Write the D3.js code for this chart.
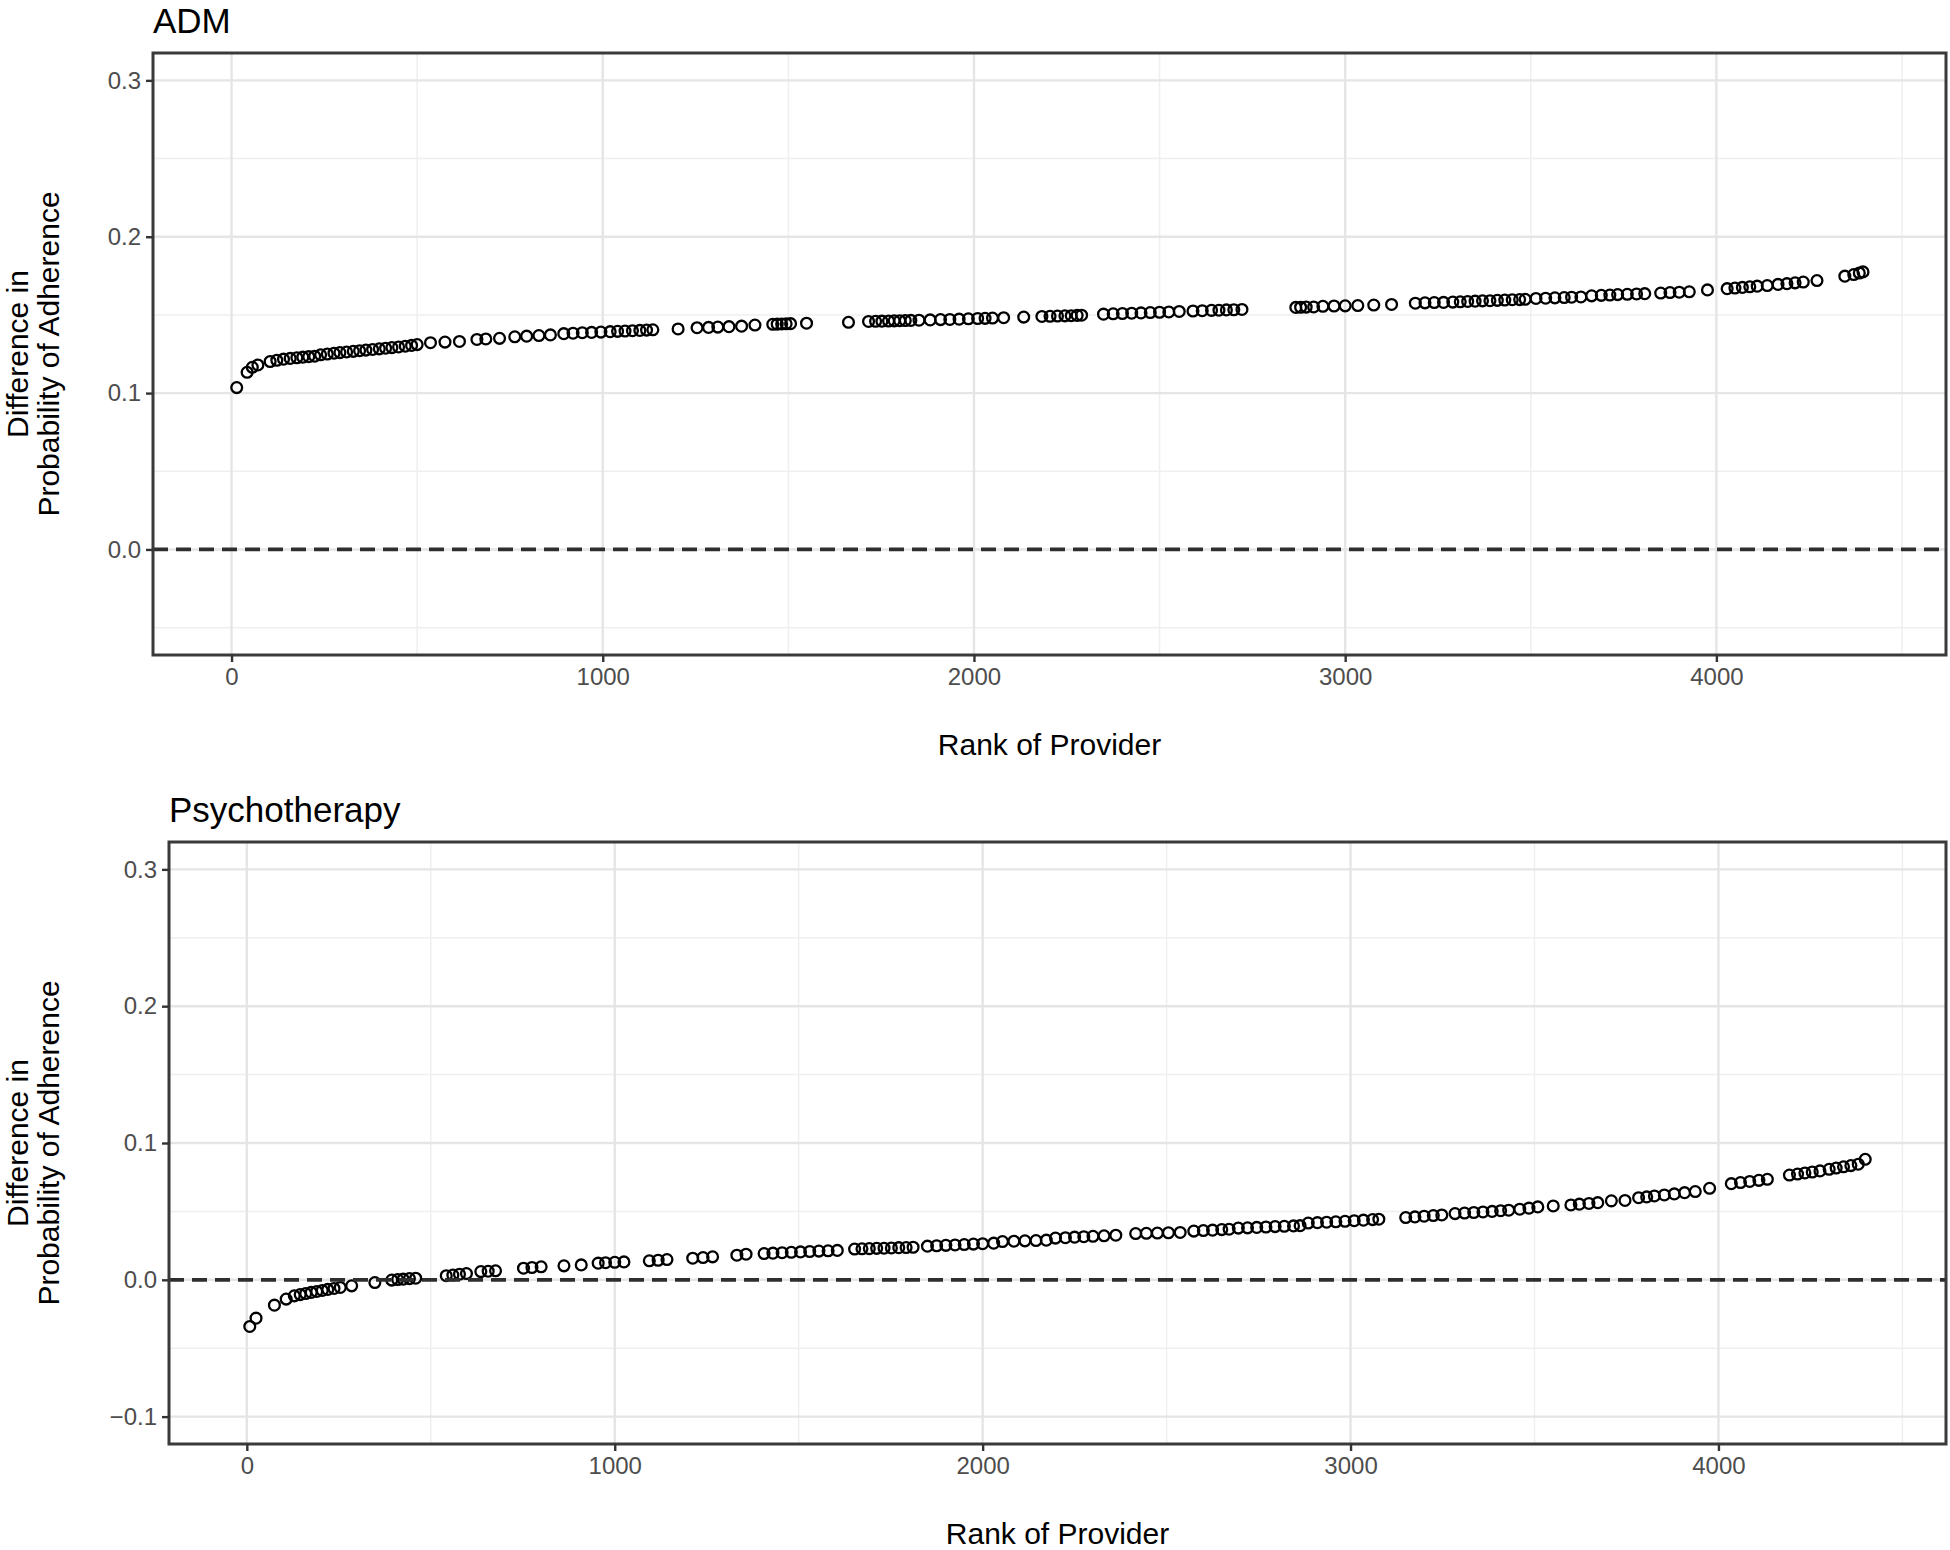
<!DOCTYPE html>
<html>
<head>
<meta charset="utf-8">
<script src="https://cdnjs.cloudflare.com/ajax/libs/d3/7.8.5/d3.min.js"></script>
<style>
    body { margin: 0; background: #fff; }
    text { font-family: "Liberation Sans", Arial, Helvetica, sans-serif; }
</style>
</head>
<body>
<div id="chart"></div>
<script>
// Difference in probability of adherence by provider rank
// two stacked panels (ADM on top, Psychotherapy below)

var xTicks = [0, 1000, 2000, 3000, 4000];
var xMinor = [500, 1500, 2500, 3500, 4500];
var xTitle = "Rank of Provider";
var yTitle = ["Difference in", "Probability of Adherence"];

var admTitle = "ADM";
var admYTicks = [0.0, 0.1, 0.2, 0.3];
var admYMinor = [-0.05, 0.05, 0.15, 0.25];
var admYLimits = [-0.05, 0.3];
var admRank = [14, 42, 56, 71,
    104, 122, 140, 158, 176, 192, 208, 224,
    240, 258, 276, 292, 310, 328, 345, 362, 380, 398, 415, 432, 450, 468, 485, 500,
    536, 575, 614,
    661, 685, 722,
    763, 795, 828, 859,
    895, 920, 945, 970, 995, 1020, 1040, 1060, 1080, 1100, 1118, 1135,
    1203,
    1254, 1285, 1310, 1340, 1374,
    1410, 1458, 1470, 1482, 1494, 1506,
    1549, 1662,
    1716, 1735, 1752, 1770, 1785, 1800, 1815, 1830, 1852,
    1882, 1910, 1935, 1960, 1985, 2010, 2030, 2050,
    2080, 2134,
    2183, 2205, 2225, 2245, 2262, 2278, 2290,
    2349, 2375, 2400, 2425, 2450, 2475, 2500, 2525, 2553,
    2590, 2615, 2640, 2660, 2680, 2700, 2722,
    2867, 2880, 2895, 2915,
    2940, 2970, 3000, 3034,
    3077, 3125,
    3189, 3215, 3240, 3265, 3290, 3310, 3330, 3350, 3370, 3390, 3410, 3430, 3450, 3470, 3485,
    3514, 3540, 3565, 3590, 3610, 3635,
    3664, 3690, 3713,
    3734, 3760, 3785, 3807,
    3850, 3875, 3900, 3927,
    3976,
    4029, 4050, 4070, 4090, 4110, 4137,
    4166, 4190, 4212, 4234,
    4271,
    4346, 4370, 4385, 4395];
var admDiff = [0.1035, 0.1133, 0.1165, 0.1180,
    0.1202, 0.1210, 0.1217, 0.1222, 0.1226, 0.1230, 0.1233, 0.1236,
    0.1245, 0.1250, 0.1255, 0.1259, 0.1263, 0.1267, 0.1271, 0.1275, 0.1279, 0.1283, 0.1287, 0.1291, 0.1295, 0.1300, 0.1305, 0.1310,
    0.1322, 0.1326, 0.1330,
    0.1343, 0.1346, 0.1350,
    0.1360, 0.1364, 0.1368, 0.1372,
    0.1380, 0.1383, 0.1386, 0.1388, 0.1390, 0.1393, 0.1395, 0.1397, 0.1399, 0.1401, 0.1403, 0.1405,
    0.1410,
    0.1418, 0.1420, 0.1422, 0.1425, 0.1428,
    0.1435, 0.1440, 0.1441, 0.1442, 0.1443, 0.1444,
    0.1447, 0.1453,
    0.1458, 0.1459, 0.1460, 0.1461, 0.1462, 0.1463, 0.1464, 0.1465, 0.1466,
    0.1468, 0.1470, 0.1471, 0.1473, 0.1475, 0.1477, 0.1478, 0.1480,
    0.1482, 0.1486,
    0.1490, 0.1491, 0.1493, 0.1494, 0.1495, 0.1497, 0.1498,
    0.1505, 0.1507, 0.1509, 0.1511, 0.1513, 0.1515, 0.1517, 0.1519, 0.1522,
    0.1525, 0.1527, 0.1529, 0.1530, 0.1532, 0.1533, 0.1535,
    0.1548, 0.1549, 0.1550, 0.1551,
    0.1555, 0.1557, 0.1558, 0.1560,
    0.1563, 0.1567,
    0.1575, 0.1577, 0.1579, 0.1580, 0.1582, 0.1584, 0.1586, 0.1588, 0.1590, 0.1591, 0.1593, 0.1595, 0.1597, 0.1598, 0.1600,
    0.1605, 0.1607, 0.1609, 0.1611, 0.1613, 0.1615,
    0.1622, 0.1625, 0.1627,
    0.1630, 0.1632, 0.1634, 0.1636,
    0.1640, 0.1643, 0.1645, 0.1648,
    0.1660,
    0.1668, 0.1672, 0.1676, 0.1680, 0.1684, 0.1688,
    0.1695, 0.1700, 0.1705, 0.1710,
    0.1720,
    0.1748, 0.1758, 0.1768, 0.1775];

var psyTitle = "Psychotherapy";
var psyYTicks = [-0.1, 0.0, 0.1, 0.2, 0.3];
var psyYMinor = [-0.05, 0.05, 0.15, 0.25];
var psyYLimits = [-0.1, 0.3];
var psyRank = [8, 25, 75, 107,
    129, 145, 160, 175, 190, 205, 220, 237, 254,
    285, 348,
    394, 410, 425, 442, 459,
    542, 560, 578, 597,
    636, 656, 676,
    752, 775, 800,
    862, 909,
    955, 975, 1000, 1025,
    1094, 1118, 1142,
    1212, 1240, 1266,
    1332, 1357,
    1406, 1430, 1455, 1480, 1505, 1530, 1555, 1580, 1605,
    1652, 1672, 1692, 1712, 1732, 1752, 1772, 1792, 1811,
    1850, 1875, 1900, 1925, 1950, 1975, 2000, 2030,
    2054, 2085, 2115, 2145, 2173,
    2198, 2225, 2250, 2275, 2300, 2330, 2362,
    2416, 2445, 2475, 2505, 2537,
    2574, 2600, 2625, 2650, 2670,
    2695, 2720, 2745, 2770, 2795, 2820, 2845, 2863,
    2885, 2910, 2935, 2960, 2985, 3010, 3035, 3060, 3077,
    3150, 3175, 3200, 3225, 3248,
    3284, 3310, 3335, 3360, 3385, 3408, 3430,
    3460, 3485, 3509,
    3551,
    3599, 3622, 3648, 3672,
    3709, 3746,
    3783, 3805, 3826,
    3853, 3880, 3908, 3937,
    3976,
    4035, 4060, 4085, 4110, 4133,
    4193, 4215, 4235, 4255, 4276,
    4301, 4320, 4340, 4360, 4380,
    4399];
var psyDiff = [-0.0341, -0.0280, -0.0185, -0.0141,
    -0.0117, -0.0108, -0.0100, -0.0092, -0.0085, -0.0078, -0.0070, -0.0063, -0.0056,
    -0.0044, -0.0020,
    -0.0002, 0.0002, 0.0005, 0.0009, 0.0012,
    0.0030, 0.0035, 0.0041, 0.0046,
    0.0060, 0.0063, 0.0066,
    0.0085, 0.0090, 0.0095,
    0.0102, 0.0109,
    0.0122, 0.0125, 0.0128, 0.0131,
    0.0139, 0.0143, 0.0148,
    0.0158, 0.0163, 0.0168,
    0.0180, 0.0187,
    0.0192, 0.0195, 0.0198, 0.0201, 0.0204, 0.0207, 0.0210, 0.0212, 0.0215,
    0.0225, 0.0227, 0.0228, 0.0230, 0.0231, 0.0233, 0.0235, 0.0236, 0.0238,
    0.0246, 0.0249, 0.0252, 0.0255, 0.0258, 0.0261, 0.0264, 0.0268,
    0.0280, 0.0282, 0.0285, 0.0287, 0.0290,
    0.0305, 0.0308, 0.0312, 0.0315, 0.0318, 0.0322, 0.0326,
    0.0338, 0.0340, 0.0342, 0.0344, 0.0346,
    0.0356, 0.0360, 0.0363, 0.0367, 0.0370,
    0.0378, 0.0380, 0.0383, 0.0386, 0.0389, 0.0391, 0.0394, 0.0396,
    0.0415, 0.0418, 0.0421, 0.0424, 0.0428, 0.0432, 0.0436, 0.0440, 0.0443,
    0.0455, 0.0460, 0.0465, 0.0470, 0.0474,
    0.0484, 0.0488, 0.0492, 0.0496, 0.0500, 0.0505, 0.0509,
    0.0516, 0.0524, 0.0533,
    0.0540,
    0.0547, 0.0553, 0.0558, 0.0564,
    0.0577, 0.0580,
    0.0600, 0.0606, 0.0613,
    0.0620, 0.0628, 0.0637, 0.0645,
    0.0669,
    0.0703, 0.0711, 0.0719, 0.0727, 0.0735,
    0.0766, 0.0773, 0.0781, 0.0788, 0.0796,
    0.0808, 0.0817, 0.0826, 0.0835, 0.0845,
    0.0881];

var svgWidth = 1950;
var svgHeight = 1550;

var svg = d3.select("#chart")
    .append("svg")
    .attr("width", svgWidth)
    .attr("height", svgHeight)
    .style("display", "block");

// ggplot style 5% padding around the data / limits
function expand(lo, hi) {
    var pad = (hi - lo) * 0.05;
    return [lo - pad, hi + pad];
}

var allRanks = admRank.concat(psyRank);
var xDomain = expand(d3.min(allRanks), d3.max(allRanks));

function drawPanel(p) {
    var xScale = d3.scaleLinear().domain(xDomain).range([p.left, p.right]);
    var yScale = d3.scaleLinear().domain(expand(p.limits[0], p.limits[1])).range([p.bottom, p.top]);

    var g = svg.append("g");

    // grid: minor first, then major
    g.selectAll(".xminor").data(xMinor.filter(d => d < xDomain[1])).enter()
        .append("line")
        .attr("x1", d => xScale(d)).attr("x2", d => xScale(d))
        .attr("y1", p.top).attr("y2", p.bottom)
        .attr("stroke", "#efefef").attr("stroke-width", 1.5);
    g.selectAll(".yminor").data(p.yMinor).enter()
        .append("line")
        .attr("x1", p.left).attr("x2", p.right)
        .attr("y1", d => yScale(d)).attr("y2", d => yScale(d))
        .attr("stroke", "#efefef").attr("stroke-width", 1.5);
    g.selectAll(".xmajor").data(xTicks).enter()
        .append("line")
        .attr("x1", d => xScale(d)).attr("x2", d => xScale(d))
        .attr("y1", p.top).attr("y2", p.bottom)
        .attr("stroke", "#e5e5e5").attr("stroke-width", 2.4);
    g.selectAll(".ymajor").data(p.yTicks).enter()
        .append("line")
        .attr("x1", p.left).attr("x2", p.right)
        .attr("y1", d => yScale(d)).attr("y2", d => yScale(d))
        .attr("stroke", "#e5e5e5").attr("stroke-width", 2.4);

    // points
    var pts = p.rank.map((r, i) => ({rank: r, diff: p.diff[i]}));
    g.append("g").selectAll("circle")
        .data(pts)
        .enter()
        .append("circle")
        .attr("cx", d => xScale(d.rank))
        .attr("cy", d => yScale(d.diff))
        .attr("r", 5.4)
        .attr("fill", "none")
        .attr("stroke", "#000")
        .attr("stroke-width", 2.3);

    // dashed zero line
    g.append("line")
        .attr("x1", p.left).attr("x2", p.right)
        .attr("y1", yScale(0)).attr("y2", yScale(0))
        .attr("stroke", "#2e2e2e")
        .attr("stroke-width", 3.8)
        .attr("stroke-dasharray", "15,8");

    // panel border
    g.append("rect")
        .attr("x", p.left).attr("y", p.top)
        .attr("width", p.right - p.left).attr("height", p.bottom - p.top)
        .attr("fill", "none")
        .attr("stroke", "#3a3a3a")
        .attr("stroke-width", 3);

    // axes
    var xAxis = d3.axisBottom(xScale).tickValues(xTicks).tickSize(7).tickPadding(6).tickFormat(d3.format("d"));
    var yAxis = d3.axisLeft(yScale).tickValues(p.yTicks).tickSize(7).tickPadding(5).tickFormat(d3.format(".1f"));

    var gx = g.append("g")
        .attr("transform", `translate(0,${p.bottom})`)
        .call(xAxis);
    var gy = g.append("g")
        .attr("transform", `translate(${p.left},0)`)
        .call(yAxis);

    [gx, gy].forEach(function(a) {
        a.select(".domain").remove();
        a.selectAll(".tick line").attr("stroke", "#333").attr("stroke-width", 2.4);
        a.selectAll(".tick text")
            .attr("fill", "#4d4d4d")
            .style("font-size", "24px")
            .style("font-family", "'Liberation Sans', Arial, sans-serif");
    });

    // titles
    g.append("text")
        .attr("x", p.left)
        .attr("y", p.top - 20)
        .style("font-size", "35px")
        .attr("fill", "#000")
        .text(p.title);

    g.append("text")
        .attr("x", (p.left + p.right) / 2)
        .attr("y", p.bottom + 100)
        .attr("text-anchor", "middle")
        .style("font-size", "30px")
        .attr("fill", "#000")
        .text(xTitle);

    var midY = (p.top + p.bottom) / 2;
    yTitle.forEach(function(line, i) {
        g.append("text")
            .attr("transform", `translate(${28 + i * 31},${midY}) rotate(-90)`)
            .attr("text-anchor", "middle")
            .style("font-size", "30px")
            .attr("fill", "#000")
            .text(line);
    });
}

drawPanel({
    title: admTitle, rank: admRank, diff: admDiff,
    yTicks: admYTicks, yMinor: admYMinor, limits: admYLimits,
    left: 153, right: 1946, top: 53, bottom: 655
});

drawPanel({
    title: psyTitle, rank: psyRank, diff: psyDiff,
    yTicks: psyYTicks, yMinor: psyYMinor, limits: psyYLimits,
    left: 169, right: 1946, top: 842, bottom: 1444
});
</script>
</body>
</html>
